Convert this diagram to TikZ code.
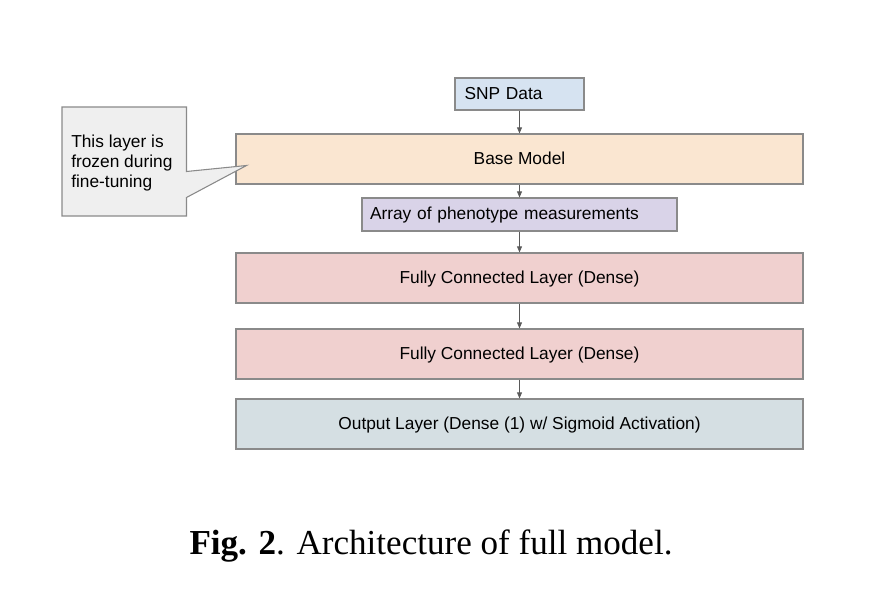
\documentclass[tikz,border=0pt]{standalone}
\usepackage{fontspec}
\setmainfont{Liberation Serif}
\newfontfamily\arialf{Liberation Sans}
\usepackage{xcolor}
\usetikzlibrary{arrows.meta,positioning}
\definecolor{edgec}{HTML}{8A8A8A}
\definecolor{arrc}{HTML}{595959}
\definecolor{snpc}{HTML}{D6E3F1}
\definecolor{basec}{HTML}{FAE6D1}
\definecolor{arrayc}{HTML}{D9D3E8}
\definecolor{densec}{HTML}{F0D0CF}
\definecolor{outc}{HTML}{D5DFE3}
\definecolor{notec}{HTML}{EFEFEF}
\tikzset{
  ar/.style={-{Triangle[length=1.6mm,width=1.3mm]},arrc,line width=0.6pt},
  box/.style={draw=edgec,line width=0.8pt,inner sep=0pt,text height=0.9em,text depth=0.1em,font=\arialf\fontsize{13}{15}\selectfont},
  wide/.style={box,minimum width=567*0.75pt,minimum height=50*0.75pt}
}
\begin{document}
\begin{tikzpicture}[x=0.75pt,y=-0.75pt]
\useasboundingbox (0,0) rectangle (884,606);
\node[box,fill=snpc,minimum width=129*0.75pt,minimum height=32*0.75pt,text width=110*0.75pt,align=left] (snp) at (519.5,94) {SNP Data};
\node[wide,fill=basec] (base) at (519.5,159) {Base Model};
\node[box,fill=arrayc,minimum width=315*0.75pt,minimum height=33*0.75pt,text width=299*0.75pt,align=left] (arr) at (519.5,214.5) {Array of phenotype measurements};
\node[wide,fill=densec] (fc1) at (519.5,278) {Fully Connected Layer (Dense)};
\node[wide,fill=densec] (fc2) at (519.5,354) {Fully Connected Layer (Dense)};
\node[wide,fill=outc] (out) at (519.5,424) {Output Layer (Dense (1) w/ Sigmoid Activation)};
\draw[ar] (snp) -- (base);
\draw[ar] (base) -- (arr);
\draw[ar] (arr) -- (fc1);
\draw[ar] (fc1) -- (fc2);
\draw[ar] (fc2) -- (out);
% callout
\coordinate (tip) at (246.5,165.5);
\draw[draw=edgec,fill=notec,line width=0.8pt] (62,107) -- (186.5,107) -- (186.5,171.5) -- (tip) -- (186.5,197.5) -- (186.5,216) -- (62,216) -- cycle;
\node[font=\arialf\fontsize{13}{15}\selectfont,align=left,anchor=north west,inner sep=0pt] (note) at (71,135) {This layer is\\frozen during\\fine-tuning};
% caption
\node[font=\fontsize{26.3}{30}\selectfont,anchor=base] (cap) at (431,554) {\textbf{Fig. 2}. Architecture of full model.};
\end{tikzpicture}
\end{document}
